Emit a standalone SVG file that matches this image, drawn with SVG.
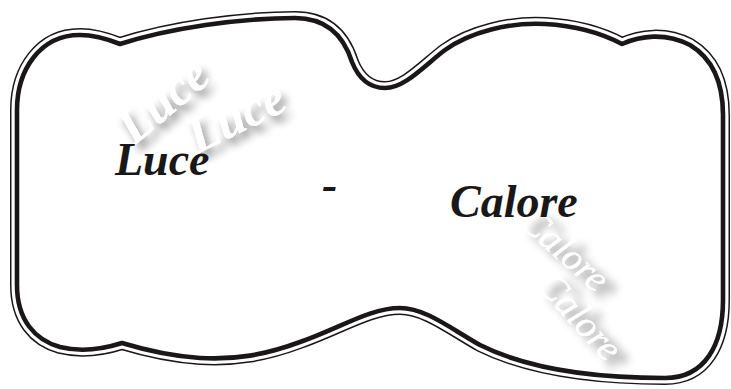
<svg xmlns="http://www.w3.org/2000/svg" width="731" height="389" viewBox="0 0 731 389">
<defs>
<style>
.lbl{font-family:"Liberation Serif","Times New Roman",serif;font-weight:bold;font-style:italic;fill:#1a1718}
.ghost{font-family:"Liberation Serif","Times New Roman",serif;font-style:italic;fill:#ffffff}
</style>
<filter id="sh" x="-40%" y="-40%" width="180%" height="180%">
<feGaussianBlur in="SourceAlpha" stdDeviation="4"/>
<feOffset dx="5" dy="6"/>
<feComponentTransfer><feFuncA type="linear" slope="0.45"/></feComponentTransfer>
<feMerge><feMergeNode/><feMergeNode in="SourceGraphic"/></feMerge>
</filter>
<filter id="sh2" x="-40%" y="-40%" width="180%" height="180%">
<feGaussianBlur in="SourceAlpha" stdDeviation="5"/>
<feOffset dx="10" dy="8"/>
<feComponentTransfer><feFuncA type="linear" slope="0.6"/></feComponentTransfer>
<feMerge><feMergeNode/><feMergeNode in="SourceGraphic"/></feMerge>
</filter>
<path id="outline" d="M 120 44 C 170 28, 240 18, 295 18 C 330 18, 345 40, 352 62 C 360 82, 372 88, 385 88 C 405 88, 425 65, 445 50 C 470 32, 510 22, 545 24 C 580 26, 605 35, 622 44 C 640 36, 665 32, 690 45 C 715 60, 723 85, 723 115 L 723 300 C 723 345, 705 378, 665 378 C 600 378, 530 370, 480 345 C 450 328, 425 308, 400 308 C 370 308, 340 328, 300 342 C 265 355, 235 360, 200 358 C 170 356, 145 350, 122 343 C 100 350, 80 352, 60 347 C 35 340, 17 320, 17 285 L 17 110 C 17 70, 40 35, 80 35 C 95 35, 110 40, 120 44 Z"/>
</defs>
<rect width="731" height="389" fill="#ffffff"/>
<g id="frame">
<use href="#outline" fill="none" stroke="#1a1718" stroke-width="14" stroke-linejoin="round"/>
<use href="#outline" fill="none" stroke="#ffffff" stroke-width="11" stroke-linejoin="round"/>
<use href="#outline" fill="#ffffff" stroke="none"/>
<use href="#outline" fill="none" stroke="#1a1718" stroke-width="4.6" stroke-linejoin="round"/>
</g>
<g id="ghost-luce-1" filter="url(#sh)">
<text class="ghost" font-weight="bold" font-size="50" transform="translate(134,146) rotate(-40)">Luce</text>
</g>
<g id="ghost-luce-2" filter="url(#sh)">
<text class="ghost" font-weight="bold" font-size="50" transform="translate(197,154) rotate(-26)">Luce</text>
</g>
<g id="ghost-calore" filter="url(#sh2)">
<text class="ghost" font-size="38" transform="translate(518,224) rotate(42)">Calore</text>
<text class="ghost" font-size="38" transform="translate(536,286) rotate(48)">Calore</text>
</g>
<g id="luce">
<text class="lbl" font-size="46" x="115" y="175">Luce</text>
</g>
<g id="dash">
<text class="lbl" font-size="46" x="322" y="200">-</text>
</g>
<g id="calore">
<text class="lbl" font-size="46" x="450" y="217">Calore</text>
</g>
</svg>
